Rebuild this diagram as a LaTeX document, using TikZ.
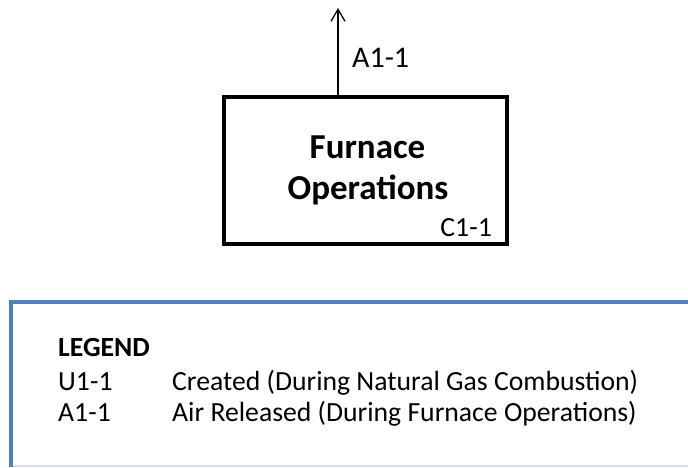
\documentclass[tikz,border=0pt]{standalone}
\usepackage{fontspec}
\setmainfont{Carlito}
\usetikzlibrary{arrows.meta}
\definecolor{legblue}{HTML}{4F81BD}
\definecolor{legpale}{HTML}{D5DEE9}
\tikzset{
  procbox/.style={draw=black, line width=3.5pt, minimum width=283pt, minimum height=147pt, inner sep=0pt},
  titletext/.style={font=\fontsize{35}{40}\selectfont\bfseries, anchor=base, inner sep=0pt},
  lbl/.style={font=\fontsize{27.7}{32}\selectfont, inner sep=0pt},
  toplbl/.style={font=\fontsize{30}{34}\selectfont, inner sep=0pt},
  flow/.style={draw=black, line width=1.3pt, -{Straight Barb[length=12pt,width=14pt,line width=1.3pt]}},
  legframe/.style={draw=legblue, line width=4pt},
  legbottom/.style={draw=legpale, line width=1.5pt}
}
\begin{document}
\begin{tikzpicture}[x=1pt,y=-1pt]
\useasboundingbox (0,0) rectangle (688,468);
\clip (0,0) rectangle (688,468);
% process box
\node[procbox] (furn) at (365.5,170.5) {};
\node[titletext] (t1) at (367.5,159) {Furnace};
\node[titletext] (t2) at (368,199) {Operations};
\node[lbl, anchor=base east] (c11) at (492,236) {C1-1};
% output arrow
\coordinate (aout) at (338,8);
\draw[flow] (furn.north -| aout) -- (aout);
\node[toplbl, anchor=base west] (a11) at (352,68) {A1-1};
% legend frame
\draw[legbottom] (11,466) -- (700,466);
\draw[legframe] (11,467) -- (11,302) -- (700,302);
\node[lbl, anchor=base west, font=\fontsize{27.7}{32}\selectfont\bfseries] (leg) at (58,356) {LEGEND};
\node[lbl, anchor=base west] (k1) at (58,390) {U1-1};
\node[lbl, anchor=base west] (v1) at (172,390) {Created (During Natural Gas Combustion)};
\node[lbl, anchor=base west] (k2) at (58,421) {A1-1};
\node[lbl, anchor=base west] (v2) at (172,421) {Air Released (During Furnace Operations)};
\end{tikzpicture}
\end{document}
